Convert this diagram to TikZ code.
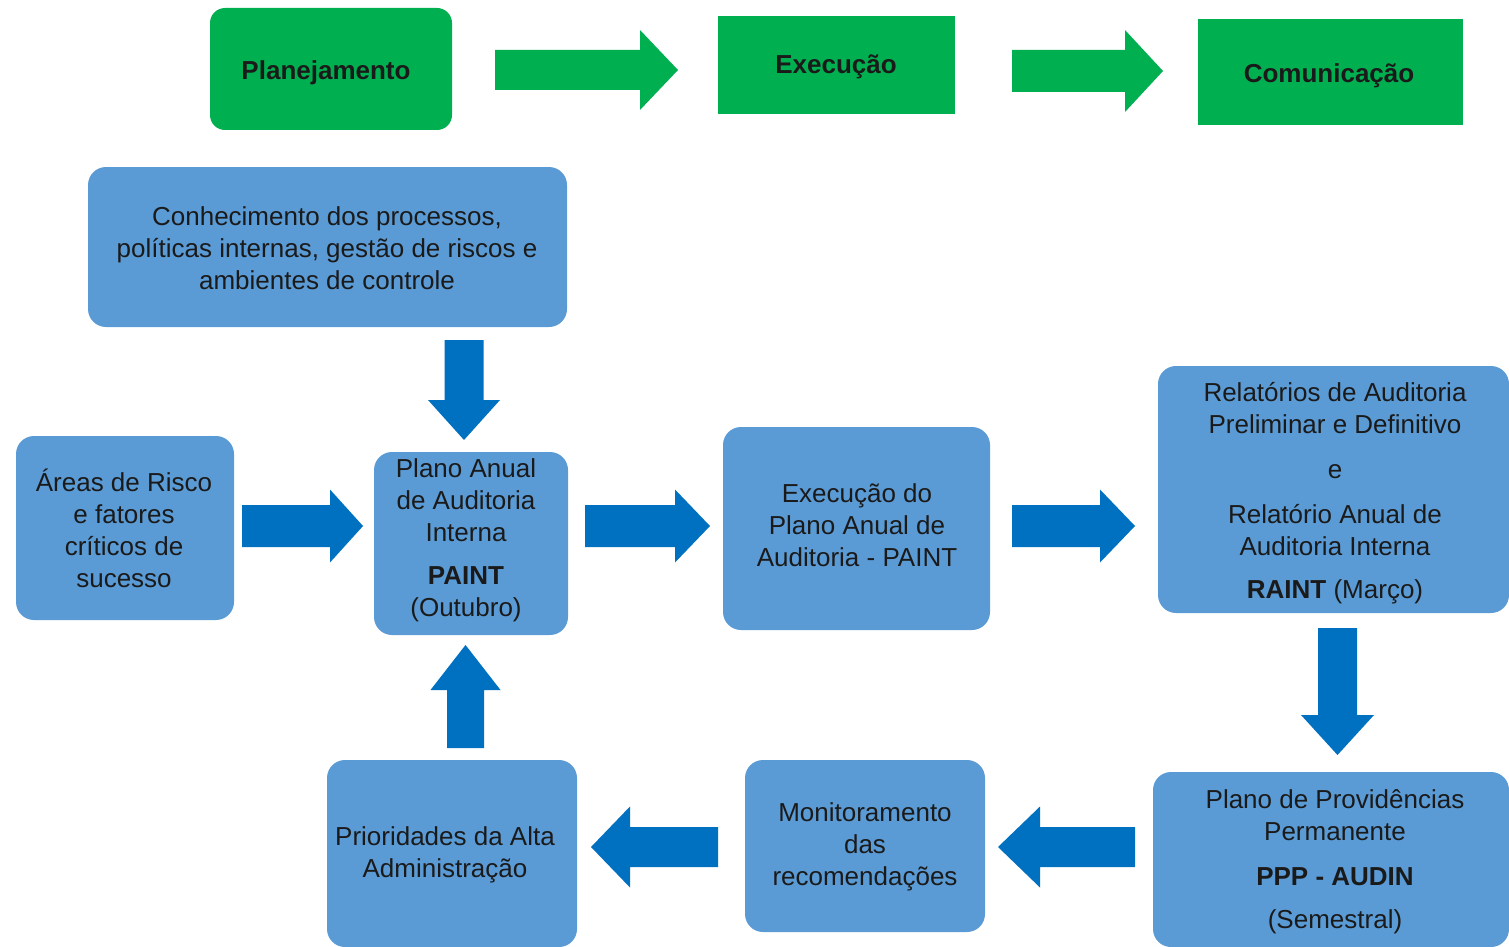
\documentclass[tikz,border=0pt]{standalone}
\usepackage{fontspec}
\setmainfont{Liberation Sans}
\definecolor{grn}{HTML}{00B050}
\definecolor{bbox}{HTML}{5B9BD5}
\definecolor{barr}{HTML}{0070C0}
\definecolor{txtc}{HTML}{1A1A1A}
% horizontal block arrow: colour, x tail, x tip, y centre, shaft half, head half, signed head length
\newcommand\hblockarrow[7]{%
  \fill[#1] (#2,#4-#5) -- (#3-#7,#4-#5) -- (#3-#7,#4-#6) -- (#3,#4)
    -- (#3-#7,#4+#6) -- (#3-#7,#4+#5) -- (#2,#4+#5) -- cycle;}
% vertical block arrow: colour, x centre, y tail, y tip, shaft half, head half, signed head length
\newcommand\vblockarrow[7]{%
  \fill[#1] (#2-#5,#3) -- (#2-#5,#4-#7) -- (#2-#6,#4-#7) -- (#2,#4)
    -- (#2+#6,#4-#7) -- (#2+#5,#4-#7) -- (#2+#5,#3) -- cycle;}
\begin{document}
\begin{tikzpicture}[x=1pt,y=-1pt,
  txt/.style={font=\fontsize{26}{32}\selectfont, text=txtc, align=center},
  gbox/.style={fill=grn, inner sep=0pt, text=txtc, font=\fontsize{26}{32}\selectfont\bfseries},
  bluebox/.style={fill=bbox, rounded corners=18pt, inner sep=0pt, txt},
]
\useasboundingbox (0,0) rectangle (1509,947);
% top row
\node[gbox, rounded corners=15pt, minimum width=242pt, minimum height=122pt] (plan) at (331,69) {};
\node[gbox] (planT) at (326,73) {Planejamento};
\node[gbox, minimum width=237pt, minimum height=98pt] (exe) at (836.5,65) {};
\node[gbox] (exeT) at (836,67) {Execução};
\node[gbox, minimum width=265pt, minimum height=106pt] (com) at (1330.5,72) {};
\node[gbox] (comT) at (1329,76) {Comunicação};
\hblockarrow{grn}{495}{678}{70}{20}{40}{38}
\hblockarrow{grn}{1012}{1163}{71}{21}{41}{38}
% blue boxes
\node[bluebox, minimum width=479pt, minimum height=160pt] (conh) at (327.5,247) {};
\node[txt] (conhT) at (327,248)
  {Conhecimento dos processos,\\políticas internas, gestão de riscos e\\ambientes de controle};
\node[bluebox, minimum width=218pt, minimum height=184pt] (areas) at (125,528) {};
\node[txt] (areasT) at (124,528) {Áreas de Risco\\e fatores\\críticos de\\sucesso};
\node[bluebox, minimum width=194pt, minimum height=183pt] (paint) at (471,543.5) {};
\node[txt] (paintT) at (466,540) {Plano Anual\\de Auditoria\\Interna\\[11pt]\textbf{PAINT}\\(Outubro)};
\node[bluebox, minimum width=267pt, minimum height=203pt] (epaint) at (856.5,528.5) {};
\node[txt] (epaintT) at (857,525) {Execução do\\Plano Anual de\\Auditoria - PAINT};
\node[bluebox, minimum width=351pt, minimum height=247pt] (rel) at (1333.5,489.5) {};
\node[txt] (relT) at (1335,493) {Relatórios de Auditoria\\Preliminar e Definitivo\\[13pt]e\\[13pt]Relatório Anual de\\Auditoria Interna\\[11pt]\textbf{RAINT} (Março)};
\node[bluebox, minimum width=356pt, minimum height=175pt] (ppp) at (1331,859.5) {};
\node[txt] (pppT) at (1335,862) {Plano de Providências\\Permanente\\[13pt]\textbf{PPP - AUDIN}\\[11pt](Semestral)};
\node[bluebox, minimum width=240pt, minimum height=172pt] (mon) at (865,846) {};
\node[txt] (monT) at (865,847) {Monitoramento\\das\\recomendações};
\node[bluebox, minimum width=250pt, minimum height=187pt] (pri) at (452,853.5) {};
\node[txt] (priT) at (445,855) {Prioridades da Alta\\Administração};
% blue arrows
\vblockarrow{barr}{464}{340}{440}{19.5}{36}{40}
\hblockarrow{barr}{242}{363}{526}{21}{36.5}{33}
\hblockarrow{barr}{585}{710}{526}{21}{36.5}{35}
\hblockarrow{barr}{1012}{1135}{526}{21}{36.5}{35}
\vblockarrow{barr}{1337.5}{628}{755}{19.5}{36.5}{40}
\hblockarrow{barr}{1135}{998}{847}{20}{40.5}{-42}
\hblockarrow{barr}{718}{591}{847}{20}{40.5}{-39}
\vblockarrow{barr}{465.5}{748}{645}{18.5}{35}{-45}
\end{tikzpicture}
\end{document}
